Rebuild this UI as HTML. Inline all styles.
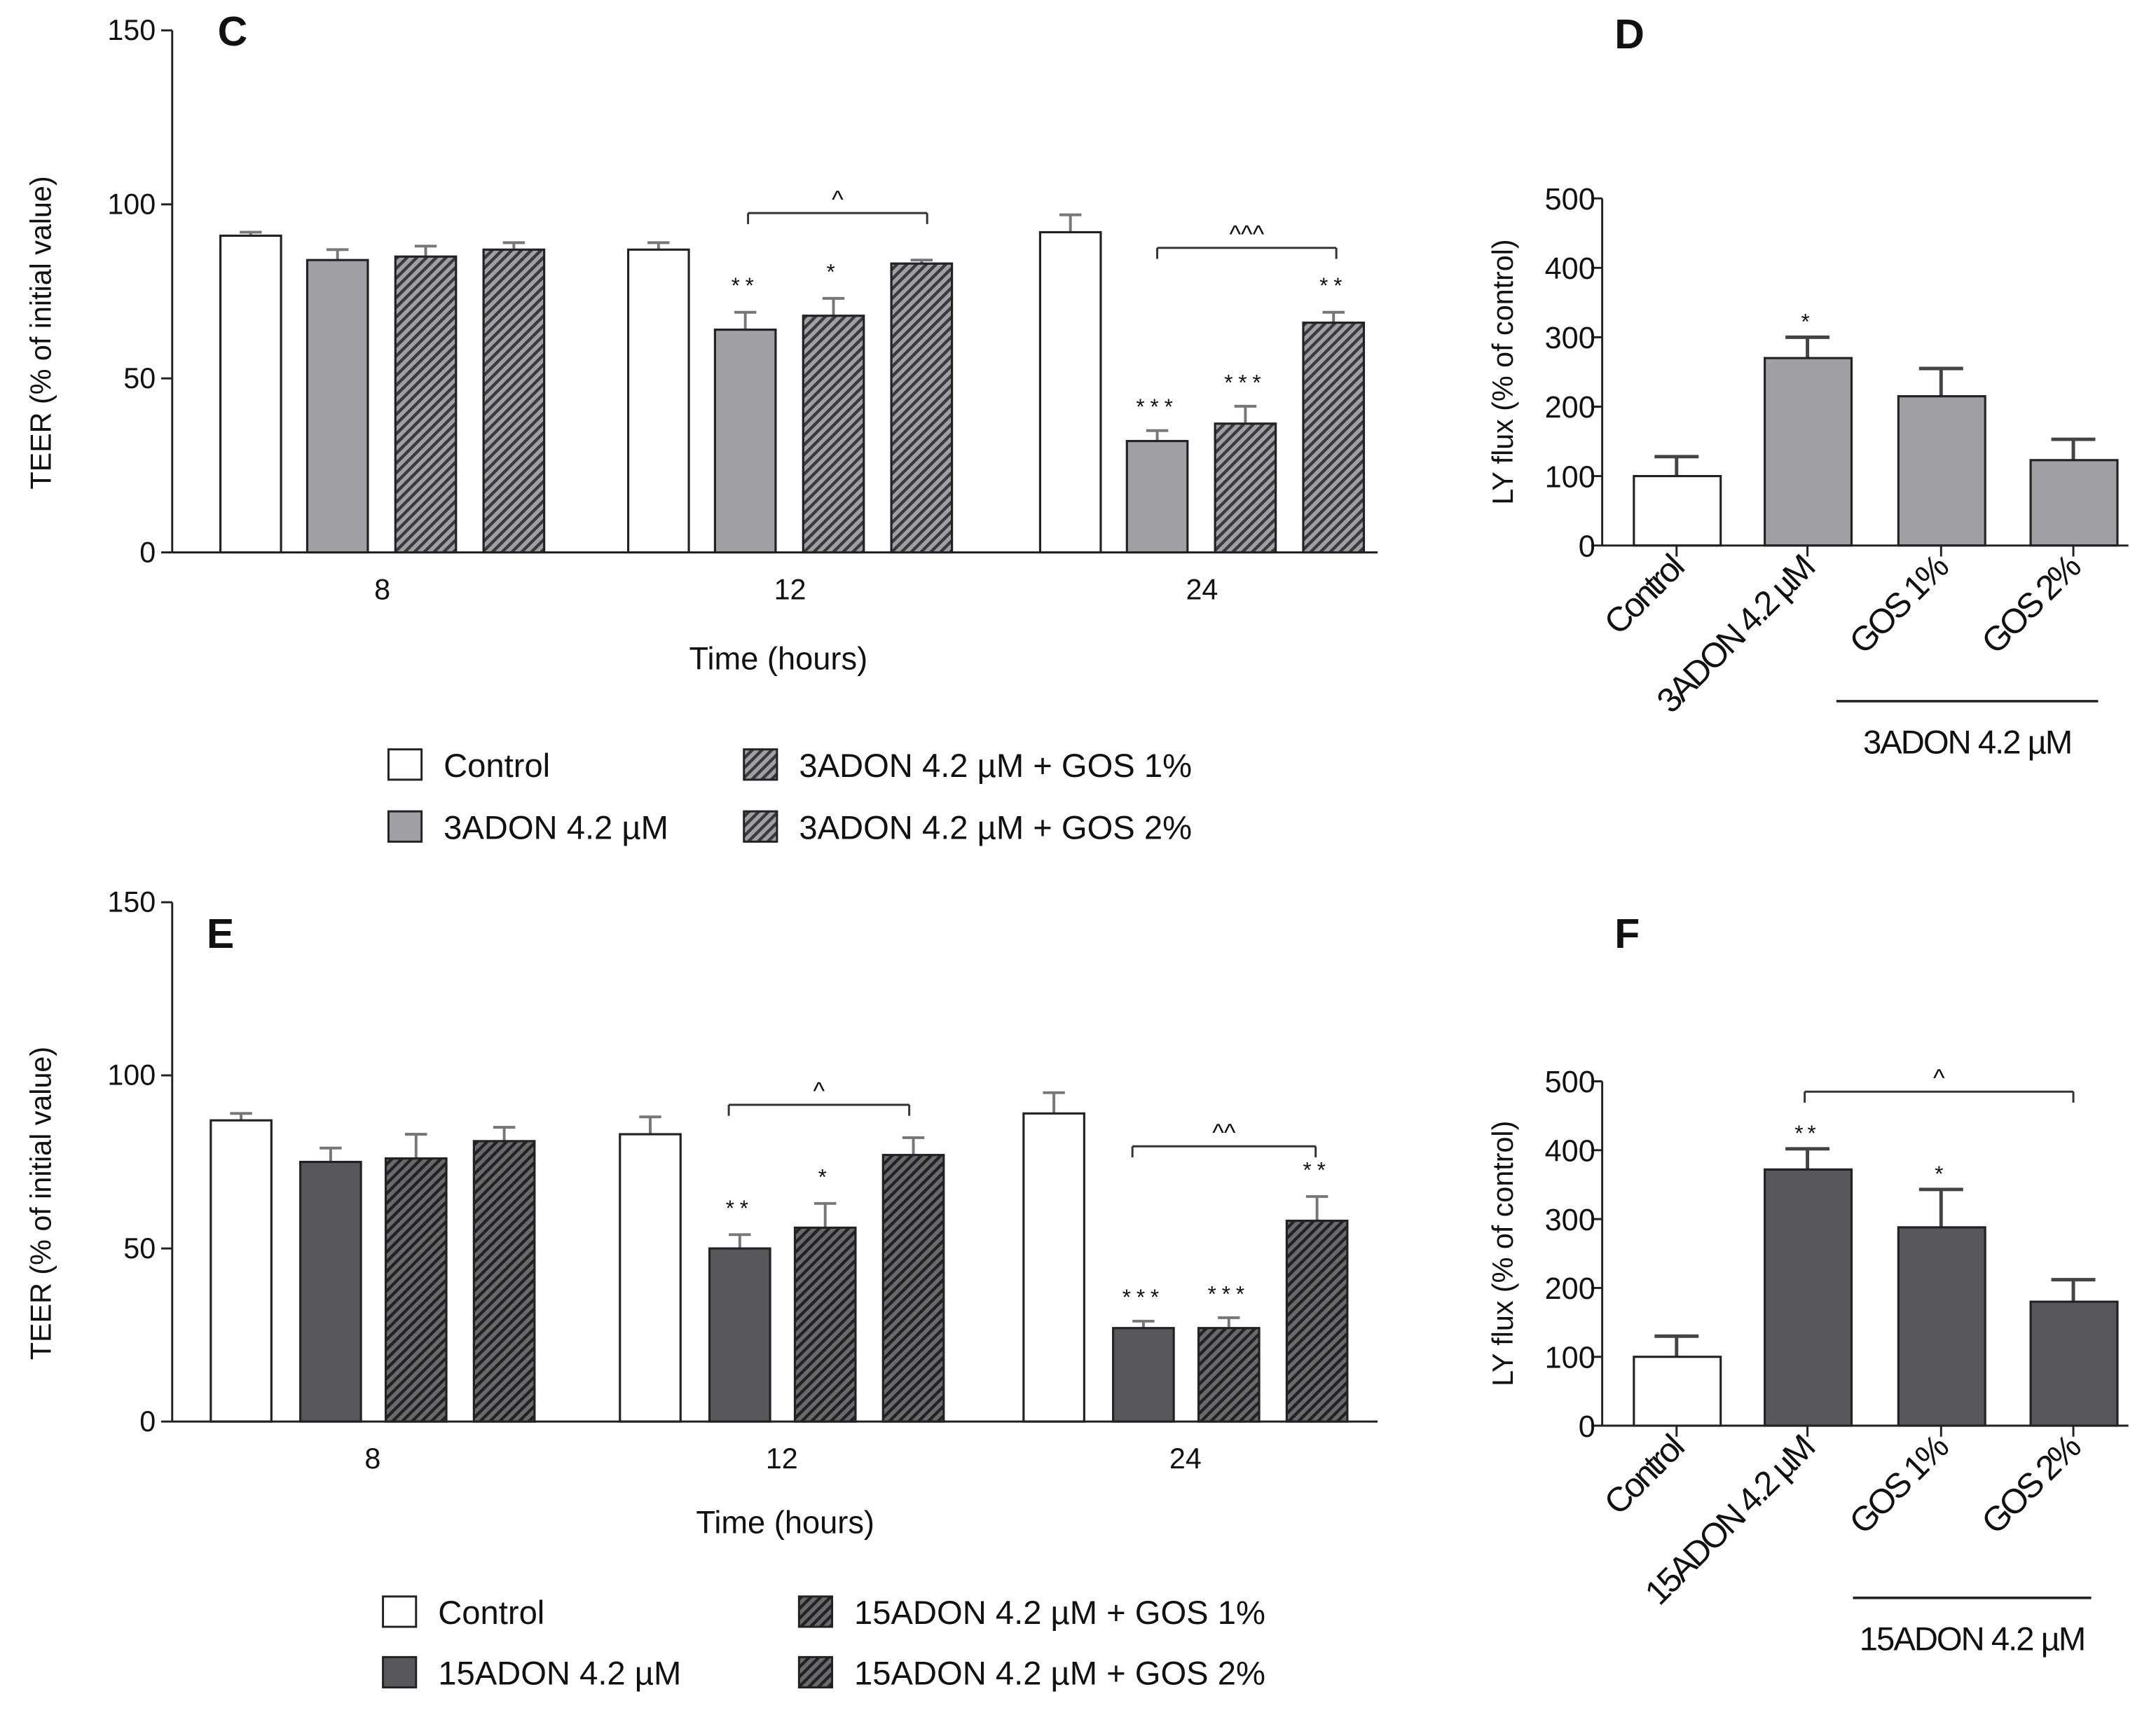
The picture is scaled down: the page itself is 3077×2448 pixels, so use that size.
<!DOCTYPE html>
<html><head><meta charset="utf-8"><style>
html,body{margin:0;padding:0;background:#fff}
svg{display:block}
text{font-family:"Liberation Sans",sans-serif;fill:#111}
</style></head><body>
<svg id="fig" width="3077" height="2448" viewBox="0 0 1565 1245" xmlns="http://www.w3.org/2000/svg">
<defs>
<pattern id="hatchL" patternUnits="userSpaceOnUse" width="5" height="5" patternTransform="rotate(45)">
<rect width="5" height="5" fill="#a0a0a4"/><rect width="2.2" height="5" fill="#3a3a3c"/></pattern>
<pattern id="hatchD" patternUnits="userSpaceOnUse" width="5" height="5" patternTransform="rotate(45)">
<rect width="5" height="5" fill="#6a6a6c"/><rect width="2.2" height="5" fill="#222"/></pattern>
</defs>
<g id="root"></g>
</svg>
<script>
// Panel C data
const groupsCE = ["8","12","24"];
const cVals = [[91,84,85,87],[87,64,68,83],[92,32,37,66]];
const cErr = [[1,3,3,2],[2,5,5,1],[5,3,5,3]];
const cStars = [["","","",""],["","**","*",""],["","***","***","**"]];
// Panel E data
const eVals = [[87,75,76,81],[83,50,56,77],[89,27,27,58]];
const eErr = [[2,4,7,4],[5,4,7,5],[6,2,3,7]];
const eStars = [["","","",""],["","**","*",""],["","***","***","**"]];
const yTicksCE = [0,50,100,150];
// Panel D data
const dCats = ["Control","3ADON 4.2 µM","GOS 1%","GOS 2%"];
const dVals = [100,270,215,123];
const dErr = [28,30,40,30];
const dStars = ["","*","",""];
// Panel F data
const fCats = ["Control","15ADON 4.2 µM","GOS 1%","GOS 2%"];
const fVals = [100,372,288,180];
const fErr = [30,30,55,32];
const fStars = ["","**","*",""];
const yTicksDF = [0,100,200,300,400,500];

const NS="http://www.w3.org/2000/svg";
const root=document.getElementById('root');
function mk(tag,attrs,parent,txt){const e=document.createElementNS(NS,tag);for(const k in attrs)e.setAttribute(k,attrs[k]);if(txt!==undefined)e.textContent=txt;(parent||root).appendChild(e);return e;}
function line(x1,y1,x2,y2,p,c,w){return mk('line',{x1,y1,x2,y2,stroke:c||'#222','stroke-width':w||1.5},p);}

function teer(cfg){
  const g=mk('g',{});
  
  
  const y=v=>cfg.y0-(cfg.y0-cfg.y150)*v/150;
  const fills=['#fff',cfg.solid,cfg.hatch,cfg.hatch];
  cfg.vals.forEach((grp,gi)=>{
    grp.forEach((v,bi)=>{
      const x=cfg.gx[gi]+cfg.off[bi];
      const top=y(v+cfg.err[gi][bi]);
      line(x+22,y(v),x+22,top,g,'#777',2);
      line(x+14,top,x+30,top,g,'#777',2);
      const r=mk('rect',{x,y:y(v),width:44,height:cfg.y0-y(v),fill:fills[bi],stroke:'#222','stroke-width':1.6},g);
      
      
      const s=cfg.stars[gi][bi];
      if(s){const t=mk('text',{x:x+22,y:top-(s.length>2?12:14),'font-size':16,'text-anchor':'middle','letter-spacing':'4'},g,s);
        }
    });
    const tx=mk('text',{x:cfg.gx[gi]+cfg.off[0]+22+(cfg.off[3]-cfg.off[0])/2,y:cfg.y0+34,'font-size':21,'text-anchor':'middle'},g,groupsCE[gi]);
    
  });
  line(cfg.ax,cfg.y0,cfg.axEnd,cfg.y0,g);
  line(cfg.ax,cfg.y0,cfg.ax,cfg.y150,g);
  yTicksCE.forEach(t=>{line(cfg.ax-8,y(t),cfg.ax,y(t),g);
    const tl=mk('text',{x:cfg.ax-12,y:y(t)+7,'font-size':21,'text-anchor':'end','fill':'#333'},g,t);
    });
  cfg.brackets.forEach(b=>{const by=y(b.v);line(b.x1,by,b.x2,by,g,'#333',1.5);line(b.x1,by,b.x1,by+8,g,'#333',1.5);line(b.x2,by,b.x2,by+8,g,'#333',1.5);
    const t=mk('text',{x:(b.x1+b.x2)/2,y:by-4,'font-size':18,'text-anchor':'middle'},g,b.s);});
  const yt=mk('text',{x:0,y:0,'font-size':21,'text-anchor':'middle',transform:`translate(${cfg.ax-88},${(cfg.y0+cfg.y150)/2+30}) rotate(-90)`},g,'TEER (% of initial value)');
  
  const xt=mk('text',{x:cfg.xtx,y:cfg.xty,'font-size':23,'text-anchor':'middle'},g,'Time (hours)');
  
  const pl=mk('text',{x:cfg.plx,y:cfg.ply,'font-size':30,'font-weight':'bold'},g,cfg.letter);
  
  cfg.leg.forEach((L,i)=>{const f=[ '#fff',cfg.solid,cfg.hatch,cfg.hatch][i];
    const r=mk('rect',{x:L[0],y:L[1]-11,width:24,height:22,fill:f,stroke:'#222','stroke-width':1.5},g);
    
    const t=mk('text',{x:L[0]+40,y:L[1]+9,'font-size':24,fill:'#222'},g,cfg.legText[i]);
    });
}

teer({name:'panel-c',vals:cVals,err:cErr,stars:cStars,y0:401,y150:22,ax:125,axEnd:1000,
  gx:[160,456,755],off:[0,63,127,191],solid:'#a0a0a4',hatch:'url(#hatchL)',
  brackets:[{x1:543,x2:673,v:97.5,s:'^'},{x1:840,x2:970,v:87.5,s:'^^^'}],
  xtx:565,xty:486,plx:158,ply:33,letter:'C',
  leg:[[282,555],[282,600],[540,555],[540,600]],
  legText:['Control','3ADON 4.2 µM','3ADON 4.2 µM + GOS 1%','3ADON 4.2 µM + GOS 2%']});
teer({name:'panel-e',vals:eVals,err:eErr,stars:eStars,y0:1032,y150:655,ax:125,axEnd:1000,
  gx:[153,450,743],off:[0,65,127,191],solid:'#58585a',hatch:'url(#hatchD)',
  brackets:[{x1:529,x2:660,v:91.5,s:'^'},{x1:822,x2:955,v:79.5,s:'^^'}],
  xtx:570,xty:1113,plx:150,ply:688,letter:'E',
  leg:[[278,1170],[278,1214],[580,1170],[580,1214]],
  legText:['Control','15ADON 4.2 µM','15ADON 4.2 µM + GOS 1%','15ADON 4.2 µM + GOS 2%']});

function lyf(cfg){
  const g=mk('g',{});
  
  
  const y=v=>cfg.y0-(cfg.y0-cfg.y500)*v/500;
  const bx=[1186,1281,1378,1474];
  cfg.vals.forEach((v,i)=>{
    const x=bx[i],top=y(v+cfg.err[i]);
    line(x+31,y(v),x+31,top,g,'#444',2.5);line(x+15,top,x+47,top,g,'#444',2.5);
    const r=mk('rect',{x,y:y(v),width:63,height:cfg.y0-y(v),fill:i?cfg.fill:'#fff',stroke:'#222','stroke-width':1.6},g);
    
    if(cfg.stars[i]){const t=mk('text',{x:x+31,y:top-6,'font-size':16,'text-anchor':'middle','letter-spacing':'3'},g,cfg.stars[i]);
      }
    const tx=x+31;line(tx,cfg.y0,tx,cfg.y0+8,g);
    const lab=mk('text',{x:0,y:0,'font-size':25,'text-anchor':'end','letter-spacing':'-1.8',transform:`translate(${tx+6},${cfg.y0+18}) rotate(-45)`},g,cfg.cats[i]);
    
  });
  line(1163,cfg.y0,1545,cfg.y0,g);line(1163,cfg.y0,1163,cfg.y500,g);
  yTicksDF.forEach(t=>{line(1155,y(t),1163,y(t),g);
    const tl=mk('text',{x:1158,y:y(t)+8,'font-size':22,'text-anchor':'end'},g,t);
    });
  const yt=mk('text',{x:0,y:0,'font-size':21,'text-anchor':'middle',transform:`translate(1098,${(cfg.y0+cfg.y500)/2}) rotate(-90)`},g,'LY flux (% of control)');
  
  line(cfg.ul[0],cfg.ul[2],cfg.ul[1],cfg.ul[2],g,'#222',1.8);
  const ut=mk('text',{x:(cfg.ul[0]+cfg.ul[1])/2,y:cfg.ul[2]+38,'font-size':24,'text-anchor':'middle','letter-spacing':'-1'},g,cfg.ulText);
  
  if(cfg.br){const b=cfg.br;const by=y(b.v);line(b.x1,by,b.x2,by,g,'#333',1.5);line(b.x1,by,b.x1,by+8,g,'#333',1.5);line(b.x2,by,b.x2,by+8,g,'#333',1.5);
    const t=mk('text',{x:(b.x1+b.x2)/2,y:by-4,'font-size':18,'text-anchor':'middle'},g,'^');}
  const pl=mk('text',{x:1172,y:cfg.ply,'font-size':30,'font-weight':'bold'},g,cfg.letter);
  
}
lyf({name:'panel-d',vals:dVals,err:dErr,stars:dStars,cats:dCats,y0:396,y500:144,fill:'#a0a0a4',ul:[1333,1523,509],ulText:'3ADON 4.2 µM',letter:'D',ply:35});
lyf({name:'panel-f',vals:fVals,err:fErr,stars:fStars,cats:fCats,y0:1035,y500:785,fill:'#58585a',ul:[1345,1518,1160],ulText:'15ADON 4.2 µM',letter:'F',ply:688,br:{x1:1310,x2:1505,v:485}});
</script>
</body></html>
